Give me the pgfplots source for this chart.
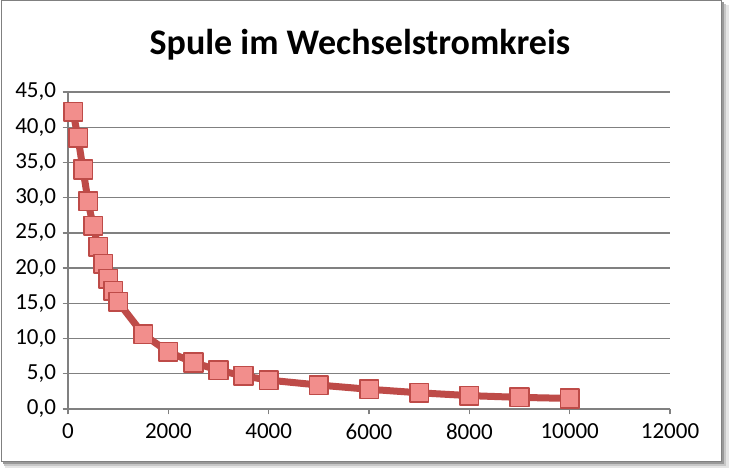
\documentclass[border=0pt]{standalone}
\usepackage{pgfplots}
\pgfplotsset{compat=1.18}
\usepackage{fontspec}
\setmainfont{Carlito}
\definecolor{linered}{HTML}{BE4B48}
\definecolor{markfill}{HTML}{F28E8C}
\definecolor{gridgray}{HTML}{808080}
\begin{document}
\begin{tikzpicture}
\path[use as bounding box] (0pt,0pt) rectangle (730pt,468pt);
\fill[black!10] (5pt,0pt) rectangle (729pt,463pt);
\fill[black!22] (4pt,2pt) rectangle (726pt,464pt);
\fill[black!40] (3pt,4pt) rectangle (724pt,466pt);
\draw[gridgray, fill=white, line width=1pt] (1pt,7pt) rectangle (721pt,467pt);
\node[font=\fontsize{36}{36}\selectfont\bfseries] at (360pt,423pt) {Spule im Wechselstromkreis};
\begin{axis}[
  at={(68pt,59pt)}, anchor=south west, scale only axis,
  width=602pt, height=317pt,
  xmin=0, xmax=12000, ymin=0, ymax=45,
  xtick={0,2000,...,12000}, ytick={0,5,...,45},
  scaled x ticks=false,
  axis x line*=bottom, axis y line*=left,
  ymajorgrids,
  grid style={gridgray, line width=1.4pt},
  axis line style={gridgray, line width=1.4pt},
  tick style={gridgray, line width=1.4pt},
  major tick length=5.5pt, tick align=outside,
  ticklabel style={font=\fontsize{23}{23}\selectfont, text=black},
  /pgf/number format/assume math mode=true,
  xticklabel style={/pgf/number format/1000 sep={}, yshift=-6pt},
  yticklabel style={/pgf/number format/.cd, fixed, fixed zerofill, precision=1, use comma, /tikz/xshift=-3pt},
  clip=false,
]
\addplot[linered, line width=7pt, line join=round,
  mark=square*, mark size=9.3pt,
  mark options={fill=markfill, draw=linered, line width=1.6pt, solid}]
coordinates {
(100,42.2) (200,38.5) (300,34.0) (400,29.5) (500,26.0) (600,23.0)
(700,20.6) (800,18.5) (900,16.8) (1000,15.2) (1500,10.6) (2000,8.1)
(2500,6.6) (3000,5.5) (3500,4.7) (4000,4.1) (5000,3.4) (6000,2.8)
(7000,2.3) (8000,1.9) (9000,1.65) (10000,1.5)
};
\end{axis}
\end{tikzpicture}
\end{document}
